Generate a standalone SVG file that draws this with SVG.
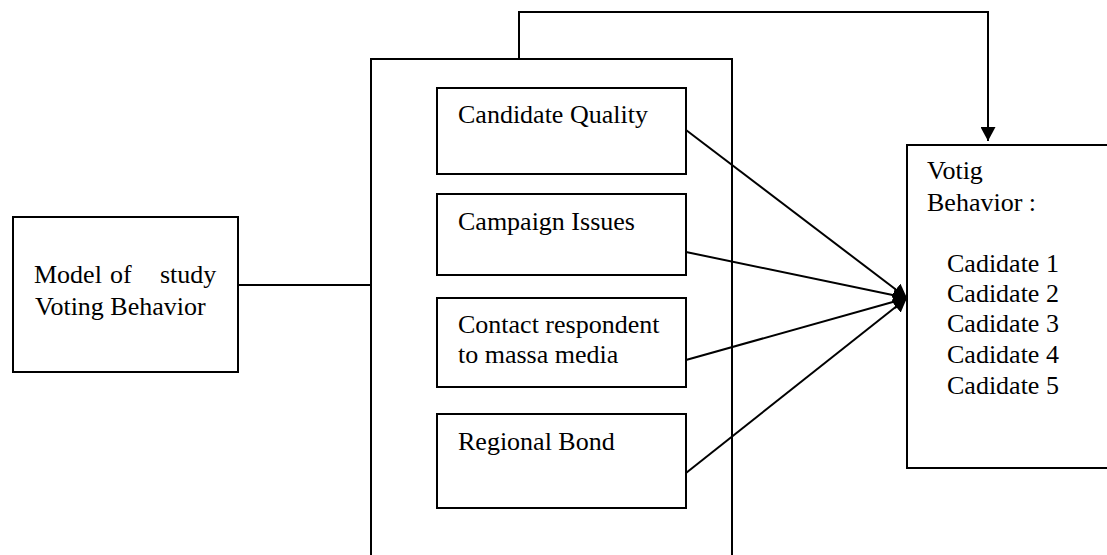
<svg xmlns="http://www.w3.org/2000/svg" width="1107" height="555" viewBox="0 0 1107 555">
<style>
.box{fill:#fff;stroke:#000;stroke-width:2}
.t{font-family:"Liberation Serif","Times New Roman",serif;font-size:26px;fill:#000}
.c{fill:none;stroke:#000;stroke-width:2}
</style>
<defs>
<marker id="ah" viewBox="0 0 14 15" refX="14" refY="7.5" markerWidth="14" markerHeight="15" markerUnits="userSpaceOnUse" orient="auto">
<path d="M0,0 L14,7.5 L0,15 z" fill="#000"/>
</marker>
</defs>
<g id="model">
<rect class="box" x="13" y="217" width="225" height="155"/>
<text class="t" y="283"><tspan x="34">Model</tspan><tspan x="110">of</tspan><tspan x="160">study</tspan></text>
<text class="t" x="35" y="315">Voting Behavior</text>
</g>
<g id="factors">
<rect class="box" x="371" y="59" width="361" height="500"/>
</g>
<g id="candidate-quality">
<rect class="box" x="437" y="88" width="249" height="86"/>
<text class="t" x="458" y="123">Candidate Quality</text>
</g>
<g id="campaign-issues">
<rect class="box" x="437" y="194" width="249" height="81"/>
<text class="t" x="458" y="230">Campaign Issues</text>
</g>
<g id="contact-media">
<rect class="box" x="437" y="298" width="249" height="89"/>
<text class="t" x="458" y="333">Contact respondent</text>
<text class="t" x="458" y="363">to massa media</text>
</g>
<g id="regional-bond">
<rect class="box" x="437" y="414" width="249" height="94"/>
<text class="t" x="458" y="450">Regional Bond</text>
</g>
<g id="voting-behavior">
<rect class="box" x="907" y="145" width="210" height="323"/>
<text class="t" x="927" y="179">Votig</text>
<text class="t" x="927" y="211">Behavior :</text>
<text class="t" x="947" y="272">Cadidate 1</text>
<text class="t" x="947" y="302">Cadidate 2</text>
<text class="t" x="947" y="332">Cadidate 3</text>
<text class="t" x="947" y="363">Cadidate 4</text>
<text class="t" x="947" y="394">Cadidate 5</text>
</g>
<g id="connectors">
<line class="c" x1="238" y1="285" x2="371" y2="285"/>
<polyline class="c" points="519,59 519,12 988,12 988,141" marker-end="url(#ah)"/>
<line class="c" x1="686" y1="130" x2="907" y2="298" marker-end="url(#ah)"/>
<line class="c" x1="686" y1="252" x2="907" y2="298" marker-end="url(#ah)"/>
<line class="c" x1="686" y1="360" x2="907" y2="298" marker-end="url(#ah)"/>
<line class="c" x1="686" y1="473" x2="907" y2="298" marker-end="url(#ah)"/>
</g>
</svg>
